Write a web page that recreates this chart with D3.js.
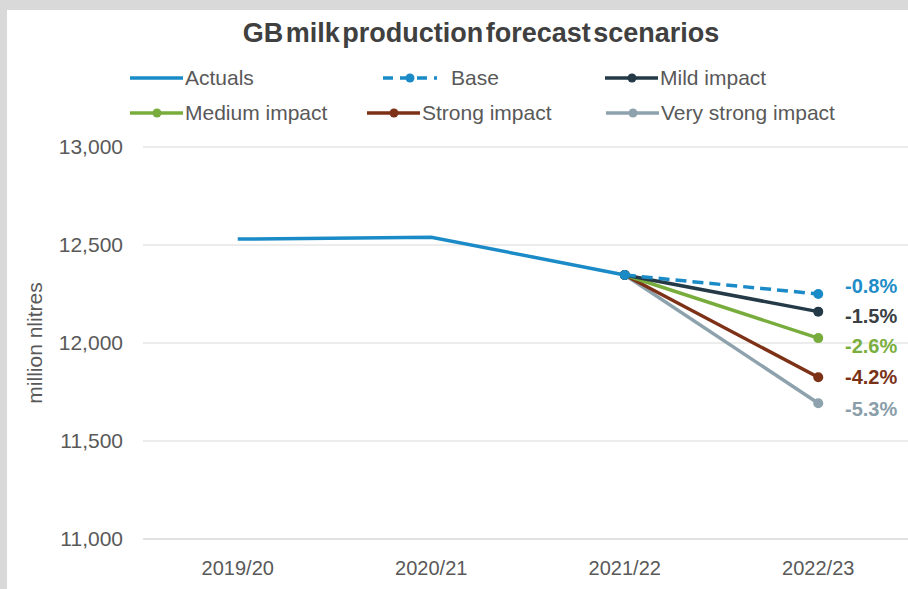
<!DOCTYPE html>
<meta charset="utf-8">
<style>
    body { margin: 0; background: #d9d9d9; }
    svg text { font-family: "Liberation Sans", Arial, sans-serif; }
</style>
<svg width="908" height="589"></svg>
<script src="https://cdn.jsdelivr.net/npm/d3@7"></script>
<script>

    var categories = ["2019/20", "2020/21", "2021/22", "2022/23"];
    var actuals = [12530, 12540, 12347];
    var scenarioNames = ["Base", "Mild impact", "Medium impact", "Strong impact", "Very strong impact"];
    var scenarioEnd = [12250, 12160, 12025, 11825, 11693];
    var scenarioLabels = ["-0.8%", "-1.5%", "-2.6%", "-4.2%", "-5.3%"];
    var yTicks = [11000, 11500, 12000, 12500, 13000];

    var colors = {
        "Actuals": "#1b8bc7",
        "Base": "#1b8bc7",
        "Mild impact": "#243a47",
        "Medium impact": "#78ad3d",
        "Strong impact": "#7d3116",
        "Very strong impact": "#8da2ac"
    };
    var labelColors = ["#1f8dc8", "#3a3f44", "#7aae3e", "#7a3216", "#8a9eaa"];
    var labelNudge = [-8, 4, 8, 0, 6];

    var svg = d3.select("svg");

    // white panel
    svg.append("rect").attr("x", 7).attr("y", 10).attr("width", 901).attr("height", 579).attr("fill", "#fff");

    var x = d3.scalePoint().domain(categories).range([141, 915]).padding(0.5);
    var y = d3.scaleLinear().domain([11000, 13000]).range([539, 147]);

    // gridlines
    svg.append("g").selectAll("line")
        .data(yTicks)
        .enter().append("line")
        .attr("x1", 143).attr("x2", 908)
        .attr("y1", d => y(d)).attr("y2", d => y(d))
        .attr("stroke", d => d == 11000 ? "#e2e2e2" : "#ececec")
        .attr("stroke-width", 2);

    // y tick labels
    svg.append("g").selectAll("text")
        .data(yTicks)
        .enter().append("text")
        .attr("x", 123).attr("y", d => y(d) + 7)
        .attr("text-anchor", "end")
        .attr("font-size", 21).attr("fill", "#595959")
        .text(d => d3.format(",")(d));

    // x tick labels
    svg.append("g").selectAll("text")
        .data(categories)
        .enter().append("text")
        .attr("x", d => x(d)).attr("y", 575)
        .attr("text-anchor", "middle")
        .attr("font-size", 20).attr("fill", "#595959")
        .text(d => d);

    svg.append("text")
        .attr("transform", "translate(42,343) rotate(-90)")
        .attr("text-anchor", "middle")
        .attr("font-size", 21).attr("fill", "#595959")
        .text("million nlitres");

    svg.append("text")
        .attr("x", 481).attr("y", 42)
        .attr("text-anchor", "middle")
        .attr("font-size", 27).attr("font-weight", "bold").attr("fill", "#404040")
        .style("word-spacing", "-5px")
        .text("GB milk production forecast scenarios");

    var line = d3.line().x(d => x(d[0])).y(d => y(d[1]));

    // scenario lines from the last actual
    var last = categories[actuals.length - 1];
    var lastVal = actuals[actuals.length - 1];
    scenarioNames.slice().reverse().forEach(function(name) {
        var i = scenarioNames.indexOf(name);
        var pts = [[last, lastVal], [categories[3], scenarioEnd[i]]];
        svg.append("path")
            .datum(pts)
            .attr("d", line)
            .attr("fill", "none")
            .attr("stroke", colors[name])
            .attr("stroke-width", 3.5)
            .attr("stroke-dasharray", name == "Base" ? "11,6" : null);
        svg.append("g").selectAll("circle")
            .data(pts)
            .enter().append("circle")
            .attr("cx", d => x(d[0])).attr("cy", d => y(d[1]))
            .attr("r", 5).attr("fill", colors[name]);
    });

    svg.append("path")
        .datum(actuals.map((v, i) => [categories[i], v]))
        .attr("d", line)
        .attr("fill", "none")
        .attr("stroke", colors["Actuals"])
        .attr("stroke-width", 3.5);

    // end labels
    svg.append("g").selectAll("text")
        .data(scenarioLabels)
        .enter().append("text")
        .attr("x", 845)
        .attr("y", (d, i) => y(scenarioEnd[i]) + labelNudge[i] + 7)
        .attr("font-size", 20).attr("font-weight", "bold")
        .attr("fill", (d, i) => labelColors[i])
        .text(d => d);

    // legend
    var legend = [
        {name: "Actuals", x: 130, y: 78, marker: false},
        {name: "Base", x: 383, y: 78, marker: true},
        {name: "Mild impact", x: 605, y: 78, marker: true},
        {name: "Medium impact", x: 130, y: 113, marker: true},
        {name: "Strong impact", x: 367, y: 113, marker: true},
        {name: "Very strong impact", x: 606, y: 113, marker: true}
    ];
    var lg = svg.append("g").selectAll("g")
        .data(legend)
        .enter().append("g")
        .attr("transform", d => "translate(" + d.x + "," + d.y + ")");
    lg.append("line")
        .attr("x1", 0).attr("x2", d => d.name == "Base" ? 54 : 53)
        .attr("stroke", d => colors[d.name])
        .attr("stroke-width", 3.5)
        .attr("stroke-dasharray", d => d.name == "Base" ? "10,7" : null);
    lg.filter(d => d.marker).append("circle")
        .attr("cx", 27).attr("r", 4.5)
        .attr("fill", d => colors[d.name]);
    lg.append("text")
        .attr("x", d => d.name == "Base" ? 68 : 55)
        .attr("y", 7)
        .attr("font-size", 21).attr("fill", "#595959")
        .text(d => d.name);

</script>
